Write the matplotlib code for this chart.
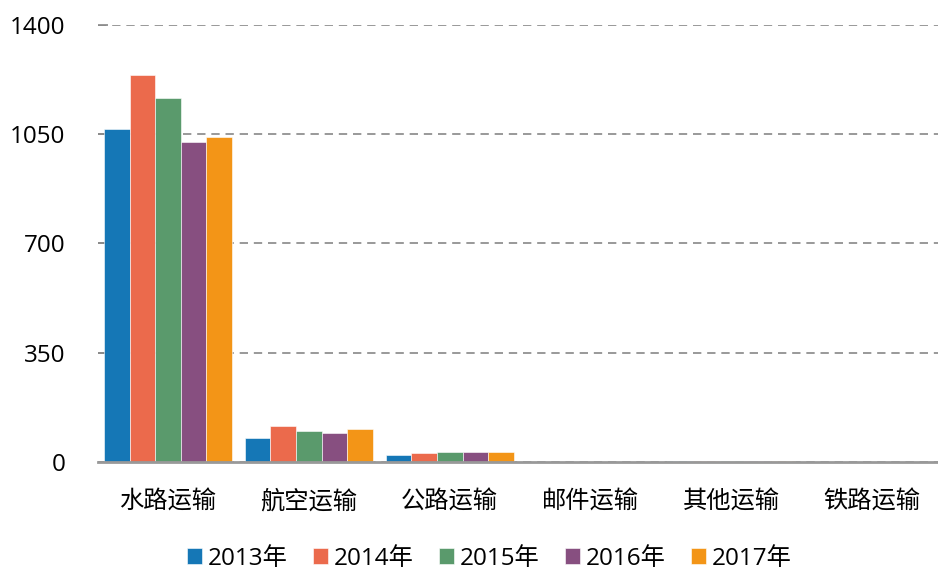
import matplotlib.pyplot as plt
import numpy as np

plt.rcParams['font.family'] = ['Open Sans', 'Noto Sans CJK SC', 'DejaVu Sans']

categories = ["水路运输", "航空运输", "公路运输", "邮件运输", "其他运输", "铁路运输"]
years = ["2013年", "2014年", "2015年", "2016年", "2017年"]
values = {
    "2013年": [1067, 76, 21, 1.0, 1.5, 0.5],
    "2014年": [1240, 115, 29, 1.0, 1.5, 0.5],
    "2015年": [1166, 98, 33, 1.0, 1.5, 0.5],
    "2016年": [1025, 93, 32, 1.0, 1.5, 0.5],
    "2017年": [1041, 106, 33, 1.0, 1.5, 0.5],
}
colors = ["#1577b6", "#eb6a4c", "#5a9a6c", "#874f80", "#f39517"]
yticks = [0, 350, 700, 1050, 1400]

fig, ax = plt.subplots(figsize=(9.38, 5.73), dpi=100)
fig.subplots_adjust(left=0.104, right=1.005, top=0.957, bottom=0.194)

x = np.arange(len(categories))
w = 0.182
for i, yr in enumerate(years):
    ax.bar(x + (i - 2) * w, values[yr], w, color=colors[i], label=yr,
           edgecolor="white", linewidth=0.4, zorder=3)

ax.set_xlim(-0.5, len(categories) - 0.5)
ax.set_ylim(0, 1400)
ax.set_yticks(yticks)
ax.set_yticklabels([str(t) for t in yticks], fontsize=17.5)
ax.set_xticks(x)
ax.set_xticklabels(categories, fontsize=17.5)
ax.tick_params(axis="x", length=0, pad=21)
ax.tick_params(axis="y", direction="in", length=7, color="#888888", width=1.2, pad=23)

ax.yaxis.grid(True, linestyle=(0, (5, 3.5)), color="#888888", linewidth=1.2, zorder=0)
for s in ["top", "right", "left"]:
    ax.spines[s].set_visible(False)
ax.spines["bottom"].set_color("#999999")
ax.spines["bottom"].set_linewidth(2)
ax.spines["bottom"].set_zorder(4)

handles, labels = ax.get_legend_handles_labels()
fig.legend(handles, labels, loc="center", bbox_to_anchor=(0.522, 0.025), ncol=5,
           frameon=False, fontsize=17.5, handlelength=0.6, handleheight=0.6,
           handletextpad=0.25, columnspacing=1.05, borderpad=0)

fig.savefig("out.png", dpi=100)
